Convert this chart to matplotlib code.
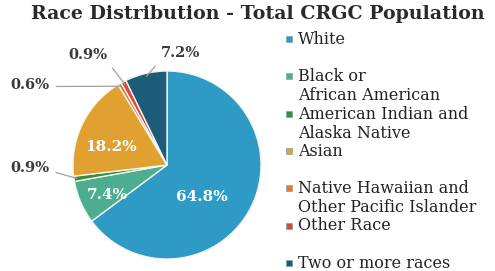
import numpy as np
import matplotlib.pyplot as plt
from matplotlib.patches import Rectangle

categories = ['White', 'Black or\nAfrican American', 'American Indian and\nAlaska Native',
              'Asian', 'Native Hawaiian and\nOther Pacific Islander', 'Other Race',
              'Two or more races']
shares = [64.8, 7.4, 0.9, 18.2, 0.6, 0.9, 7.2]
colors = ['#2e9ac6', '#4cae8e', '#3d8b3d', '#e0a130', '#e8762c', '#d9463b', '#1d5c79']

# label placement (pie units), outside labels get a leader line from relpos
label_pos = [(0.37, -0.34), (-0.63, -0.32), (-1.46, -0.03), (-0.60, 0.19),
             (-1.46, 0.85), (-0.84, 1.17), (0.14, 1.19)]
outside = [False, False, True, False, True, True, True]
relpos = [None, None, (1.0, 0.3), None, (1.0, 0.4), (1.0, 0.0), (0.0, 0.0)]

plt.rcParams['font.family'] = ['DejaVu Serif']

fig = plt.figure(figsize=(4.95, 2.71), dpi=100)
W, H = 495, 271
cx, cy, r = 167, 165, 94
ax = fig.add_axes([(cx - r) / W, (H - cy - r) / H, 2 * r / W, 2 * r / H])

wedges, _ = ax.pie(shares, colors=colors, startangle=90, counterclock=False,
                   wedgeprops=dict(edgecolor='#f4f4f0', linewidth=1.0))
ax.set_xlim(-1, 1)
ax.set_ylim(-1, 1)
ax.set_aspect('equal')

for w, val, pos, out, rp in zip(wedges, shares, label_pos, outside, relpos):
    txt = f'{val:.1f}%'
    if out:
        mid = np.deg2rad((w.theta1 + w.theta2) / 2)
        edge = (0.97 * np.cos(mid), 0.97 * np.sin(mid))
        ax.annotate(txt, xy=edge, xytext=pos, ha='center', va='center',
                    fontsize=10.5, fontweight='bold', color='#3a3a3a',
                    arrowprops=dict(arrowstyle='-', color='#a0a0a0', lw=0.9,
                                    relpos=rp, shrinkA=3, shrinkB=0))
    else:
        ax.text(pos[0], pos[1], txt, ha='center', va='center', fontsize=11,
                fontweight='bold', color='white')

fig.text(258 / W, 1 - 14 / H, 'Race Distribution - Total CRGC Population',
         ha='center', va='center', fontsize=13.7, fontweight='bold', color='#2a2a2a')

# legend drawn by hand to mimic the Excel layout
for i, (lab, col) in enumerate(zip(categories, colors)):
    y = 39 + i * 37.3
    fig.patches.append(Rectangle((286 / W, 1 - (y + 3) / H), 6 / W, 6 / H,
                                 transform=fig.transFigure, facecolor=col,
                                 edgecolor='#7a9aa0', linewidth=0.4))
    fig.text(298 / W, 1 - (y - 8) / H, lab, ha='left', va='top', fontsize=11.5,
             color='#222222', linespacing=1.15)

fig.savefig('out.png', dpi=100)
